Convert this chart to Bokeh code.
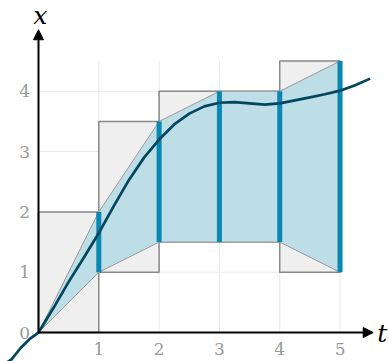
from bokeh.plotting import figure
from bokeh.models import Arrow, NormalHead, Range1d
from bokeh.core.properties import value
from bokeh.embed import file_html
from bokeh.resources import INLINE

# Enclosing boxes on each unit step: [t0, t1] x [lo, hi]
box_t0 = [0, 1, 2, 3, 4]
box_t1 = [1, 2, 3, 4, 5]
box_lo = [0, 1, 1.5, 1.5, 1]
box_hi = [2, 3.5, 4, 4, 4.5]

# Enclosures at the grid points
bar_t = [1, 2, 3, 4, 5]
bar_lo = [1, 1.5, 1.5, 1.5, 1]
bar_hi = [2, 3.5, 4, 4, 4.5]

# Trajectory x(t)
curve_t = [-0.7, -0.45, -0.3, -0.15, 0, 0.25, 0.5, 0.75, 1, 1.25, 1.5, 1.75, 2,
           2.25, 2.5, 2.75, 3, 3.25, 3.5, 3.75, 4, 4.25, 4.5, 4.75, 5, 5.25, 5.5]
curve_x = [-0.6, -0.45, -0.26, -0.11, 0, 0.41, 0.84, 1.24, 1.65, 2.1, 2.53, 2.9, 3.2,
           3.45, 3.63, 3.75, 3.81, 3.82, 3.8, 3.78, 3.8, 3.85, 3.9, 3.95, 4.01, 4.1, 4.21]

ticks = [1, 2, 3, 4, 5]
yticks = [0, 1, 2, 3, 4]

p = figure(width=389, height=361, output_backend="svg", toolbar_location=None,
           x_range=Range1d(-0.63, 5.82), y_range=Range1d(-0.48, 5.505),
           min_border=0, outline_line_color=None)
p.axis.visible = False
p.grid.visible = False

grid_col = "#e8e8e8"
# grid
p.segment(x0=ticks, y0=[0] * 5, x1=ticks, y1=[4.5] * 5, line_color=grid_col, line_width=1)
p.segment(x0=[0] * 4, y0=yticks[1:], x1=[5] * 4, y1=yticks[1:], line_color=grid_col, line_width=1)

# boxes
p.quad(left=box_t0, right=box_t1, bottom=box_lo, top=box_hi,
       fill_color="#efefef", line_color="#888888", line_width=1.5)

# hull between the enclosures
hull_t = [0] + bar_t + bar_t[::-1]
hull_x = [0] + bar_hi + bar_lo[::-1]
p.patch(hull_t, hull_x, fill_color="#bddde7", line_color="#999999", line_width=1)

# enclosure bars
p.segment(x0=bar_t, y0=bar_lo, x1=bar_t, y1=bar_hi, line_color="#0787b1", line_width=5)

# trajectory
p.line(curve_t, curve_x, line_color="#00465f", line_width=2.7)

# axes with arrow heads
p.add_layout(Arrow(x_start=0, y_start=0, x_end=5.55, y_end=0, line_width=2, line_color="black",
                   end=NormalHead(size=10, fill_color="black", line_color="black")))
p.add_layout(Arrow(x_start=0, y_start=0, x_end=0, y_end=5.02, line_width=2, line_color="black",
                   end=NormalHead(size=10, fill_color="black", line_color="black")))

serif = value("DejaVu Serif")
p.text(x=ticks, y=[-0.27] * 5, text=[str(v) for v in ticks], text_font=serif,
       text_font_size="17px", text_color="#999999", text_align="center", text_baseline="middle")
p.text(x=[-0.23] * 5, y=yticks, text=[str(v) for v in yticks], text_font=serif,
       text_font_size="17px", text_color="#999999", text_align="center", text_baseline="middle")

p.text(x=[0.03], y=[5.26], text=["x"], text_font=serif, text_font_style="italic",
       text_font_size="25px", text_color="black", text_align="center", text_baseline="middle")
p.text(x=[5.70], y=[-0.01], text=["t"], text_font=serif, text_font_style="italic",
       text_font_size="25px", text_color="black", text_align="center", text_baseline="middle")

open("out.html", "w").write(file_html(p, INLINE))
